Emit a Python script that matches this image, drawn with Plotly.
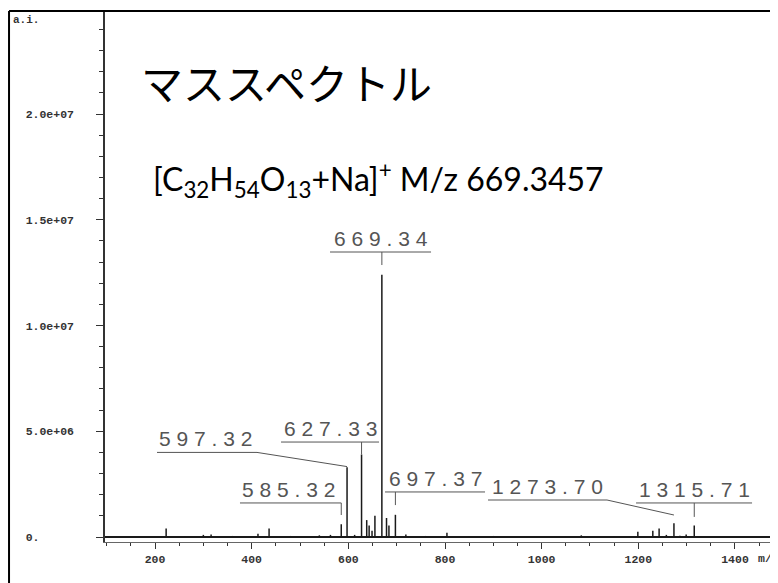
import plotly.graph_objects as go

# ---- data ----
peak_mz = [223, 262, 300, 316, 360, 413, 436, 480, 540, 563,
           585.32, 597.32, 613, 627.33, 638, 643, 649, 655, 669.34,
           679, 684, 697.37, 719, 760, 804, 850, 900, 1050, 1082,
           1150, 1199, 1230, 1243, 1258, 1273.70, 1286, 1299, 1315.71, 1330]
peak_int = [0.40e6, 0.05e6, 0.10e6, 0.12e6, 0.05e6, 0.15e6, 0.40e6, 0.05e6, 0.08e6, 0.10e6,
            0.60e6, 3.30e6, 0.10e6, 3.90e6, 0.80e6, 0.55e6, 0.30e6, 1.00e6, 12.40e6,
            0.90e6, 0.55e6, 1.05e6, 0.12e6, 0.05e6, 0.20e6, 0.05e6, 0.05e6, 0.05e6, 0.08e6,
            0.05e6, 0.25e6, 0.30e6, 0.40e6, 0.10e6, 0.65e6, 0.06e6, 0.12e6, 0.55e6, 0.05e6]

label_mz = [669.34, 627.33, 597.32, 585.32, 697.37, 1273.70, 1315.71]
label_text = ["669.34", "627.33", "597.32", "585.32", "697.37", "1273.70", "1315.71"]

x_tickvals = [200, 400, 600, 800, 1000, 1200, 1400]
x_ticktext = ["200", "400", "600", "800", "1000", "1200", "1400"]
y_tickvals = [0, 5e6, 1e7, 1.5e7, 2e7]
y_ticktext = ["0.", "5.0e+06", "1.0e+07", "1.5e+07", "2.0e+07"]

title_text = "マススペクトル"
formula_text = "[C<sub>32</sub>H<sub>54</sub>O<sub>13</sub>+Na]<sup>+</sup> M/z 669.3457"

# ---- label layout (positions only) ----
lab_cx = [666.6, 563.1, 303.4, 477.2, 779.3, 1011.1, 1315.3]
lab_uy = [13.475e6, 4.49e6, 4.00e6, 1.61e6, 2.13e6, 1.75e6, 1.61e6]
lab_u0 = [562.1, 460.7, 204.1, 375.8, 675.9, 889.0, 1195.3]
lab_u1 = [771.1, 663.5, 411.0, 585.32, 882.8, 1135.2, 1435.3]
lab_start_x = [669.34, 627.33, 411.0, 585.32, 697.37, 1135.2, 1315.71]
lab_end_y = [12.86e6, 3.90e6, 3.33e6, 1.04e6, 1.51e6, 1.04e6, 0.95e6]

XR = [96.5, 1489]
YR = [-0.236e6, 2.487e7]

# stick spectrum built from the peak lists
sx, sy = [], []
for m, h in zip(peak_mz, peak_int):
    sx += [m, m, None]
    sy += [0, h, None]

fig = go.Figure()
fig.add_trace(go.Scatter(x=sx, y=sy, mode="lines",
                         line=dict(color="#1a1a1a", width=1.5),
                         hoverinfo="skip", showlegend=False))

shapes = []
annotations = []
LC = "#555555"
for i, (mz, txt) in enumerate(zip(label_mz, label_text)):
    spaced = " ".join(list(txt))
    annotations.append(dict(x=lab_cx[i], y=lab_uy[i], xref="x", yref="y",
                            text=spaced, showarrow=False, xanchor="center",
                            yanchor="bottom", yshift=0,
                            font=dict(family="Liberation Sans", size=21, color=LC)))
    shapes.append(dict(type="line", xref="x", yref="y",
                       x0=lab_u0[i], x1=lab_u1[i], y0=lab_uy[i], y1=lab_uy[i],
                       line=dict(color=LC, width=1)))
    shapes.append(dict(type="line", xref="x", yref="y",
                       x0=lab_start_x[i], x1=mz, y0=lab_uy[i], y1=lab_end_y[i],
                       line=dict(color=LC, width=1)))

# frame lines of the picture
fx = -0.1426
shapes.append(dict(type="line", xref="paper", yref="paper", x0=fx, x1=1.01, y0=1.0, y1=1.0,
                   line=dict(color="black", width=2)))
shapes.append(dict(type="line", xref="paper", yref="paper", x0=fx, x1=fx, y0=1.0, y1=-0.1,
                   line=dict(color="black", width=2)))

annotations += [
    dict(x=0.0505, y=0.868, xref="paper", yref="paper", text=title_text, showarrow=False,
         xanchor="left", yanchor="middle",
         font=dict(family="Noto Sans CJK JP", size=42, color="black")),
    dict(x=0.0690, y=0.682, xref="paper", yref="paper", text=formula_text, showarrow=False,
         xanchor="left", yanchor="middle",
         font=dict(family="Lato", size=32, color="black")),
    dict(x=-0.1395, y=0.983, xref="paper", yref="paper", text="a.i.", showarrow=False,
         xanchor="left", yanchor="middle",
         font=dict(family="Liberation Mono", size=11, color="#333", weight="bold")),
    dict(x=0.967, y=-0.032, xref="paper", yref="paper", text="m/z", showarrow=False,
         xanchor="left", yanchor="middle",
         font=dict(family="Liberation Mono", size=11.5, color="#333", weight="bold")),
]

y_ticktext_pad = [t + "\u00a0" * (7 - len(t)) for t in y_ticktext]

# the page adds an 8px body margin, so the figure is sized to fill the window exactly
fig.update_layout(
    width=770, height=575,
    margin=dict(l=97, r=0, t=3, b=41),
    paper_bgcolor="white", plot_bgcolor="white",
    shapes=shapes, annotations=annotations,
    xaxis=dict(range=XR, showgrid=False, zeroline=False,
               showline=True, linecolor="#666", linewidth=1,
               tickmode="array", tickvals=x_tickvals, ticktext=x_ticktext,
               ticks="outside", ticklen=6, tickcolor="#333", tickwidth=1,
               ticklabelstandoff=0,
               tickfont=dict(family="Liberation Mono", size=11.5, color="#333", weight="bold"),
               minor=dict(tickmode="linear", tick0=0, dtick=50, ticks="outside",
                          ticklen=3, tickcolor="#333", tickwidth=1, showgrid=False)),
    yaxis=dict(range=YR, showgrid=False,
               zeroline=True, zerolinecolor="#1a1a1a", zerolinewidth=2,
               showline=True, linecolor="#333", linewidth=1.5,
               tickmode="array", tickvals=y_tickvals, ticktext=y_ticktext_pad,
               ticks="outside", ticklen=7, tickcolor="#333", tickwidth=1,
               ticklabelstandoff=20,
               tickfont=dict(family="Liberation Mono", size=11.5, color="#333", weight="bold"),
               minor=dict(tickmode="linear", tick0=0, dtick=1e6, ticks="outside",
                          ticklen=4, tickcolor="#333", tickwidth=1, showgrid=False)),
)

fig.write_html("out.html")
